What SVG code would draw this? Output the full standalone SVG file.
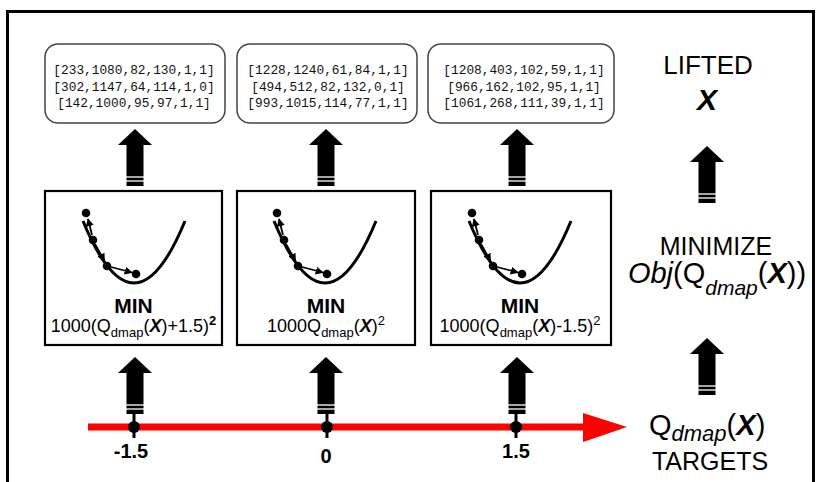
<svg xmlns="http://www.w3.org/2000/svg" xmlns:xlink="http://www.w3.org/1999/xlink" width="817" height="482" viewBox="0 0 817 482">
<style>
.mono{font-family:"Liberation Mono","Courier New",monospace;font-size:12.8px;fill:#111;text-anchor:middle}
.sans{font-family:"Liberation Sans",Arial,sans-serif;fill:#000}
.rbox{fill:#fff;stroke:#444;stroke-width:1.5}
.mbox{fill:#fff;stroke:#000;stroke-width:2.2}
.curve{fill:none;stroke:#000;stroke-width:3}
.step{fill:none;stroke:#000;stroke-width:1.8}
.mid{text-anchor:middle}
.bi{font-weight:bold;font-style:italic}
.it{font-style:italic}
</style>
<defs>
<marker id="ah" viewBox="0 0 10 10" refX="9" refY="5" markerWidth="4.5" markerHeight="4.5" orient="auto" markerUnits="strokeWidth">
<path d="M0,0 L10,5 L0,10 z" fill="#000"/>
</marker>
<g id="blk">
<polygon points="0,0 17,16 8.5,16 8.5,57 -8.5,57 -8.5,16 -17,16" fill="#000"/>
<line x1="-9" y1="48" x2="9" y2="48" stroke="#fff" stroke-width="1.3"/>
<line x1="-9" y1="52" x2="9" y2="52" stroke="#fff" stroke-width="1.3"/>
</g>
<g id="bowl">
<path class="curve" d="M83,221 Q134,345 185,221"/>
<line class="step" x1="92" y1="235" x2="88" y2="219" marker-end="url(#ah)"/>
<line class="step" x1="95" y1="244" x2="104.5" y2="261" marker-end="url(#ah)"/>
<line class="step" x1="111" y1="267" x2="132" y2="272.5" marker-end="url(#ah)"/>
<circle cx="86" cy="213" r="4.3" fill="#000"/>
<circle cx="93" cy="240" r="4.3" fill="#000"/>
<circle cx="107" cy="266" r="4.3" fill="#000"/>
<circle cx="136" cy="274" r="4.3" fill="#000"/>
</g>
</defs>
<rect x="0" y="0" width="817" height="482" fill="#fff"/>
<rect id="frame" x="7.5" y="11.5" width="806" height="490" fill="none" stroke="#000" stroke-width="3"/>

<g id="connectors">
<use xlink:href="#blk" x="135" y="129"/>
<use xlink:href="#blk" x="326" y="129"/>
<use xlink:href="#blk" x="517" y="129"/>
<use xlink:href="#blk" x="135" y="357"/>
<use xlink:href="#blk" x="326" y="357"/>
<use xlink:href="#blk" x="517" y="357"/>
<use xlink:href="#blk" x="707" y="146"/>
<use xlink:href="#blk" x="707" y="338"/>
</g>

<g id="axis">
<line x1="88" y1="427" x2="586" y2="427" stroke="#ff0000" stroke-width="7"/>
<polygon points="583,413 627,427 583,442" fill="#ff0000"/>
<g stroke="#000" stroke-width="3">
<line x1="134" y1="413" x2="134" y2="438"/>
<line x1="327" y1="413" x2="327" y2="438"/>
<line x1="516" y1="413" x2="516" y2="438"/>
</g>
<circle cx="134" cy="427" r="6" fill="#000"/>
<circle cx="327" cy="427" r="6" fill="#000"/>
<circle cx="516" cy="427" r="6" fill="#000"/>
<text class="sans mid" x="131" y="458" font-size="20" font-weight="bold">-1.5</text>
<text class="sans mid" x="326" y="463" font-size="20" font-weight="bold">0</text>
<text class="sans mid" x="516" y="458" font-size="20" font-weight="bold">1.5</text>
</g>

<g id="res1">
<rect class="rbox" x="45" y="44" width="180" height="79" rx="13"/>
<text class="mono" x="134" y="74">[233,1080,82,130,1,1]</text>
<text class="mono" x="134" y="91">[302,1147,64,114,1,0]</text>
<text class="mono" x="134" y="107">[142,1000,95,97,1,1]</text>
</g>
<g id="res2">
<rect class="rbox" x="237" y="44" width="180" height="79" rx="13"/>
<text class="mono" x="328" y="74">[1228,1240,61,84,1,1]</text>
<text class="mono" x="328" y="91">[494,512,82,132,0,1]</text>
<text class="mono" x="328" y="107">[993,1015,114,77,1,1]</text>
</g>
<g id="res3">
<rect class="rbox" x="428" y="44" width="186" height="79" rx="13"/>
<text class="mono" x="524" y="74">[1208,403,102,59,1,1]</text>
<text class="mono" x="524" y="91">[966,162,102,95,1,1]</text>
<text class="mono" x="524" y="107">[1061,268,111,39,1,1]</text>
</g>

<g id="min1">
<rect class="mbox" x="45" y="191" width="177" height="154"/>
<use xlink:href="#bowl"/>
<text class="sans mid" x="133.5" y="313" font-size="21" font-weight="bold">MIN</text>
<text class="sans mid" x="133.5" y="332" font-size="18">1000(Q<tspan font-size="13" dy="5">dmap</tspan><tspan dy="-5">(</tspan><tspan class="bi">X</tspan>)+1.5)<tspan font-size="13" font-weight="bold" dy="-7">2</tspan></text>
</g>
<g id="min2">
<rect class="mbox" x="237" y="191" width="178" height="154"/>
<use xlink:href="#bowl" x="191"/>
<text class="sans mid" x="326" y="313" font-size="21" font-weight="bold">MIN</text>
<text class="sans mid" x="326" y="332" font-size="18">1000Q<tspan font-size="13" dy="5">dmap</tspan><tspan dy="-5">(</tspan><tspan class="bi">X</tspan>)<tspan font-size="13" dy="-7">2</tspan></text>
</g>
<g id="min3">
<rect class="mbox" x="431" y="191" width="180" height="154"/>
<use xlink:href="#bowl" x="386"/>
<text class="sans mid" x="520" y="313" font-size="21" font-weight="bold">MIN</text>
<text class="sans mid" x="520" y="332" font-size="18">1000(Q<tspan font-size="13" dy="5">dmap</tspan><tspan dy="-5">(</tspan><tspan class="bi">X</tspan>)-1.5)<tspan font-size="13" dy="-7">2</tspan></text>
</g>

<g id="lifted">
<text class="sans mid" x="708" y="74" font-size="26">LIFTED</text>
<text class="sans mid bi" x="707" y="110" font-size="30">X</text>
</g>
<g id="minimize">
<text class="sans mid" x="716" y="255" font-size="25">MINIMIZE</text>
<text class="sans mid" x="717" y="283" font-size="29"><tspan class="it">Obj</tspan>(Q<tspan class="it" font-size="21" dy="12">dmap</tspan><tspan dy="-12">(</tspan><tspan class="bi">X</tspan>))</text>
</g>
<g id="targets">
<text class="sans" x="649" y="435" font-size="29">Q<tspan class="it" font-size="22" dy="6">dmap</tspan><tspan dy="-6">(</tspan><tspan class="bi">X</tspan>)</text>
<text class="sans mid" x="710" y="470" font-size="25">TARGETS</text>
</g>
</svg>
